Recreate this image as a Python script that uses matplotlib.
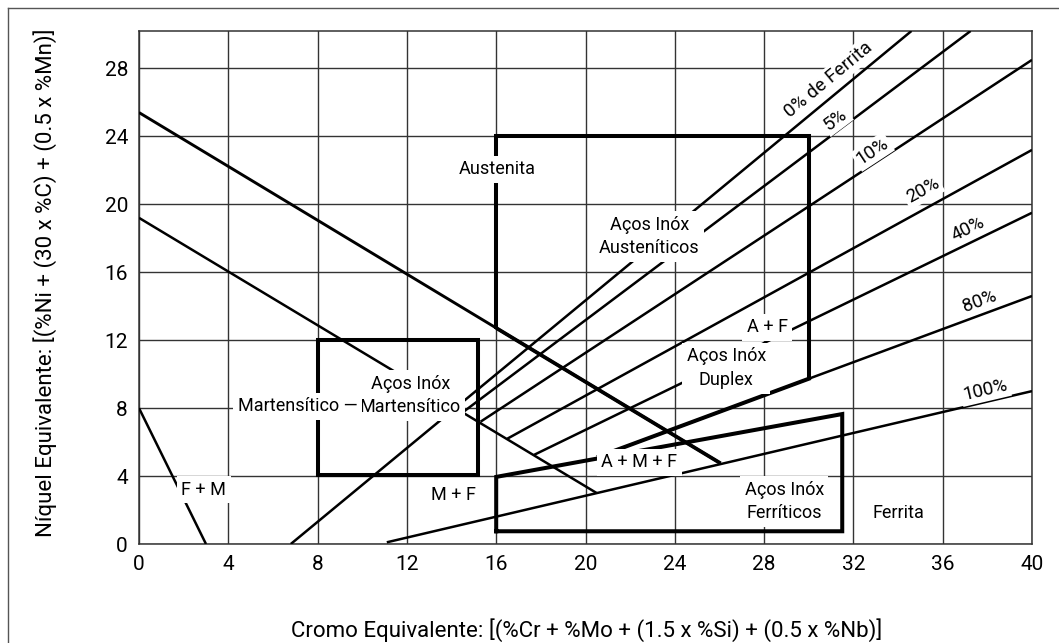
import numpy as np
import matplotlib
matplotlib.use('Agg')
from matplotlib import pyplot as plt
from matplotlib.lines import Line2D

plt.rcParams['font.family'] = ['Roboto', 'DejaVu Sans']

# Schaeffler diagram: Cr equivalent (x) vs Ni equivalent (y)
ticks_x = np.arange(0, 41, 4)
ticks_y = np.arange(0, 29, 4)

# iso-ferrite lines, start and end points
ferrite_names = ['0% de Ferrita', '5%', '10%', '20%', '40%', '80%', '100%']
ferrite_x0 = [6.8, 14.5, 15.3, 16.5, 17.7, 20.6, 11.1]
ferrite_y0 = [0.0, 7.75, 7.2, 6.2, 5.25, 5.15, 0.1]
ferrite_x1 = [34.6, 37.25, 40.0, 40.0, 40.0, 40.0, 40.0]
ferrite_y1 = [30.2, 30.2, 28.5, 23.2, 19.5, 14.6, 9.0]
ferrite_lbl_x = [30.9, 31.2, 32.85, 35.1, 37.15, 37.65, 37.9]
ferrite_lbl_y = [27.35, 25.0, 23.1, 20.8, 18.55, 14.3, 9.05]

# martensite boundaries and F+M line
upper_x, upper_y = [0, 26.05], [25.4, 4.75]
lower_x, lower_y = [0, 20.5], [19.2, 3.0]
fm_x, fm_y = [0, 3], [8, 0]

# stainless steel families
aust_x = [16, 16, 30, 30]
aust_y = [12.75, 24, 24, 9.75]
mart_x = [8, 8, 15.2, 15.2, 8]
mart_y = [4.05, 12, 12, 4.05, 4.05]
ferr_x = [16, 16, 31.5, 31.5, 16]
ferr_y = [0.75, 3.95, 7.65, 0.75, 0.75]
duplex_end = 30.0

region_text = ['Austenita', 'Aços Inóx\nAusteníticos', 'A + F', 'Aços Inóx\nDuplex',
               'A + M + F', 'Aços Inóx\nFerríticos', 'Ferrita', 'F + M', 'M + F',
               'Aços Inóx\nMartensítico', 'Martensítico —']
region_x = [16.05, 22.85, 28.15, 26.3, 22.4, 28.9, 34.0, 2.9, 14.1, 12.15, 7.1]
region_y = [22.05, 18.1, 12.75, 10.35, 4.8, 2.5, 1.85, 3.2, 2.9, 8.75, 8.1]

W, H, dpi = 1059, 643, 100
fig = plt.figure(figsize=(W / dpi, H / dpi), dpi=dpi)
ax = fig.add_axes([139 / W, 1 - 544 / H, (1032 - 139) / W, (544 - 31) / H])
ax.set_xlim(0, 40)
ax.set_ylim(0, 30.2)

grid_c = '#333333'
ax.set_xticks(ticks_x)
ax.set_yticks(ticks_y)
ax.grid(True, color=grid_c, lw=1.0, zorder=1)
ax.set_axisbelow(True)
for s in ax.spines.values():
    s.set_color(grid_c)
    s.set_linewidth(1.1)
ax.tick_params(length=0, labelsize=15, pad=8)

thin, thick = 1.8, 2.9
ax.plot(upper_x, upper_y, color='k', lw=2.1, zorder=3, solid_capstyle='butt')
ux = [16, upper_x[1]]
ax.plot(ux, np.interp(ux, upper_x, upper_y), color='k', lw=2.7, zorder=3, solid_capstyle='butt')
ax.plot(lower_x, lower_y, color='k', lw=thin, zorder=3, solid_capstyle='butt')
ax.plot(fm_x, fm_y, color='k', lw=thin, zorder=3, solid_capstyle='butt')

fig.canvas.draw()
for i, name in enumerate(ferrite_names):
    xs = [ferrite_x0[i], ferrite_x1[i]]
    ys = [ferrite_y0[i], ferrite_y1[i]]
    ax.plot(xs, ys, color='k', lw=thin, zorder=3, solid_capstyle='butt')
    p = ax.transData.transform(np.column_stack([xs, ys]))
    ang = np.degrees(np.arctan2(p[1, 1] - p[0, 1], p[1, 0] - p[0, 0]))
    ax.text(ferrite_lbl_x[i], ferrite_lbl_y[i], name, rotation=ang, rotation_mode='anchor',
            ha='center', va='center', fontsize=13.5, zorder=6,
            bbox=dict(boxstyle='square,pad=0.12', fc='white', ec='none'))

# duplex boundary: heavy part of the 80% line
dx = [ferrite_x0[5], duplex_end]
ax.plot(dx, np.interp(dx, [ferrite_x0[5], ferrite_x1[5]], [ferrite_y0[5], ferrite_y1[5]]),
        color='k', lw=thick, zorder=4, solid_capstyle='projecting')

for bx, by in [(aust_x, aust_y), (mart_x, mart_y), (ferr_x, ferr_y)]:
    ax.plot(bx, by, color='k', lw=thick, zorder=4, solid_joinstyle='miter')

for t, x, y in zip(region_text, region_x, region_y):
    ax.text(x, y, t, ha='center', va='center', fontsize=13, linespacing=1.4, zorder=6,
            bbox=dict(boxstyle='square,pad=0.25', fc='white', ec='none'))

fig.text(587 / W, 1 - 630 / H, 'Cromo Equivalente: [(%Cr + %Mo + (1.5 x %Si) + (0.5 x %Nb)]',
         ha='center', va='center', fontsize=16)
fig.text(45 / W, 1 - 283 / H, 'Níquel Equivalente: [(%Ni + (30 x %C) + (0.5 x %Mn)]',
         ha='center', va='center', rotation=90, fontsize=16)

# page frame
fig.add_artist(Line2D([8 / W, 1], [1 - 8 / H, 1 - 8 / H], color='#555555', lw=1.0))
fig.add_artist(Line2D([8 / W, 8 / W], [0, 1 - 8 / H], color='#555555', lw=1.0))

fig.savefig('out.png', dpi=dpi)
